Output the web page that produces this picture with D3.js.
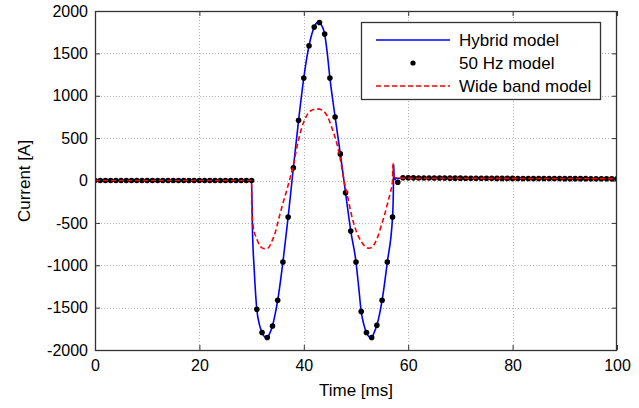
<!DOCTYPE html>
<html><head><meta charset="utf-8">
<script src="https://cdn.jsdelivr.net/npm/d3@7"></script>
<style>
html,body{margin:0;padding:0;background:#fff;}
svg text{font-family:"Liberation Sans",Arial,sans-serif;fill:#000;}
</style></head>
<body><svg id="c" width="639" height="408"></svg>
<script>
// ---- data ----
const xTicks = [0, 20, 40, 60, 80, 100];
const yTicks = [-2000, -1500, -1000, -500, 0, 500, 1000, 1500, 2000];
const legendLabels = ["Hybrid model", "50 Hz model", "Wide band model"];

// Hybrid model (blue line)
const hybridT = [0, 30, 30.15, 30.5, 31, 31.5, 32, 32.5, 33, 33.5, 34, 34.5, 35, 36, 37, 38, 39, 40, 40.5, 41, 41.5, 42, 42.5, 43, 43.5, 44, 44.5, 45, 46, 47, 48, 49, 50, 50.5, 51, 51.5, 52, 52.5, 53, 53.5, 54, 54.5, 55, 56, 57, 57.15, 57.22, 57.3, 57.45, 57.7, 58, 59, 70, 85, 100];
const hybridV = [0, 0, -540, -1050, -1520, -1700, -1794, -1845, -1855, -1800, -1716, -1580, -1413, -962, -432, 150, 710, 1210, 1420, 1590, 1720, 1810, 1860, 1865, 1820, 1728, 1500, 1210, 750, 314, -145, -597, -962, -1250, -1547, -1700, -1794, -1845, -1853, -1790, -1708, -1580, -1413, -962, -432, -150, 190, 50, 10, 30, 25, 30, 28, 25, 22];

// 50 Hz model (black dots, every 1 ms)
const dotT = d3.range(0, 101);
const dotV = [
  0, 0, 0, 0, 0, 0, 0, 0, 0, 0,
  0, 0, 0, 0, 0, 0, 0, 0, 0, 0,
  0, 0, 0, 0, 0, 0, 0, 0, 0, 0,
  0, -1519, -1794, -1853, -1716, -1413, -962, -432, 150, 710,
  1210, 1590, 1810, 1865, 1728, 1210, 750, 314, -145, -597,
  -962, -1547, -1794, -1853, -1708, -1413, -962, -432, -20, 32,
  31, 31, 30, 30, 30, 29, 29, 29, 28, 28,
  28, 27, 27, 27, 26, 26, 26, 25, 25, 25,
  25, 24, 24, 24, 24, 23, 23, 23, 23, 23,
  22, 22, 22, 22, 22, 21, 21, 21, 21, 21, 20
];

// Wide band model (red dashed)
const wideT = [0, 30, 30.02, 30.3, 31, 31.5, 32, 32.6, 33.2, 34, 34.5, 35, 35.5, 36, 36.8, 37.5, 38, 38.7, 39.5, 40.5, 41.5, 42.5, 43.5, 44.5, 45.5, 46.4, 47, 47.7, 48.5, 49, 50, 51, 52, 52.5, 53, 54, 55, 55.5, 56, 56.5, 57, 57.08, 57.15, 57.3, 58, 70, 85, 100];
const wideV = [0, 0, -300, -540, -690, -760, -795, -805, -795, -700, -620, -500, -380, -270, -100, 60, 180, 400, 600, 760, 830, 845, 830, 760, 600, 420, 250, 0, -220, -370, -590, -720, -790, -800, -790, -690, -500, -400, -280, -160, 0, 200, 100, 40, 28, 26, 24, 22];

// ---- layout ----
const W = 639, H = 408;
const m = {left: 95, right: 617, top: 11, bottom: 350};
const svg = d3.select("#c");
const x = d3.scaleLinear().domain([0, 100]).range([m.left, m.right]);
const y = d3.scaleLinear().domain([-2000, 2000]).range([m.bottom, m.top]);

svg.append("rect").attr("width", W).attr("height", H).attr("fill", "#fff");

// grid
const grid = svg.append("g").attr("stroke", "#b4b4b4").attr("stroke-width", 1).attr("stroke-dasharray", "1,2");
grid.selectAll(".gx").data(xTicks.slice(1, -1)).enter().append("line")
  .attr("x1", d => Math.round(x(d)) + 0.5).attr("x2", d => Math.round(x(d)) + 0.5)
  .attr("y1", m.top).attr("y2", m.bottom);
grid.selectAll(".gy").data(yTicks.slice(1, -1)).enter().append("line")
  .attr("y1", d => Math.round(y(d)) + 0.5).attr("y2", d => Math.round(y(d)) + 0.5)
  .attr("x1", m.left).attr("x2", m.right);

// axes (inward ticks like MATLAB)
const tickLen = 5;
const fmt = d => String(d);
const axB = svg.append("g").attr("transform", `translate(0,${m.bottom})`)
  .call(d3.axisBottom(x).tickValues(xTicks).tickFormat(fmt).tickSizeInner(-tickLen).tickSizeOuter(0).tickPadding(10));
const axL = svg.append("g").attr("transform", `translate(${m.left},0)`)
  .call(d3.axisLeft(y).tickValues(yTicks).tickFormat(fmt).tickSizeInner(-tickLen).tickSizeOuter(0).tickPadding(7));
const axT = svg.append("g").attr("transform", `translate(0,${m.top})`)
  .call(d3.axisTop(x).tickValues(xTicks).tickSizeInner(-tickLen).tickSizeOuter(0).tickFormat(""));
const axR = svg.append("g").attr("transform", `translate(${m.right},0)`)
  .call(d3.axisRight(y).tickValues(yTicks).tickSizeInner(-tickLen).tickSizeOuter(0).tickFormat(""));
[axB, axL, axT, axR].forEach(a => {
  a.select(".domain").remove();
  a.selectAll("line").attr("stroke", "#333");
  a.selectAll("text").attr("font-size", "16px").attr("fill", "#000")
    .style("font-family", '"Liberation Sans", Arial, sans-serif');
});

// lines
const line = d3.line().x(d => x(d[0])).y(d => y(d[1])).curve(d3.curveMonotoneX);
const hybrid = hybridT.map((t, i) => [t, hybridV[i]]);
const wide = wideT.map((t, i) => [t, wideV[i]]);
const dots = dotT.map((t, i) => [t, dotV[i]]);

const clip = svg.append("clipPath").attr("id", "pc").append("rect")
  .attr("x", m.left).attr("y", m.top).attr("width", m.right - m.left).attr("height", m.bottom - m.top);
const plot = svg.append("g").attr("clip-path", "url(#pc)");

plot.append("path").datum(hybrid).attr("d", line).attr("fill", "none")
  .attr("stroke", "#0000ff").attr("stroke-width", 1.6);
plot.selectAll(".dot").data(dots).enter().append("circle")
  .attr("cx", d => x(d[0])).attr("cy", d => y(d[1])).attr("r", 2.8).attr("fill", "#000");
plot.append("path").datum(wide).attr("d", line).attr("fill", "none")
  .attr("stroke", "#ff0000").attr("stroke-width", 1.6).attr("stroke-dasharray", "5,3");

// box
svg.append("rect").attr("x", m.left + 0.5).attr("y", m.top + 0.5)
  .attr("width", m.right - m.left - 1).attr("height", m.bottom - m.top)
  .attr("fill", "none").attr("stroke", "#333").attr("stroke-width", 1.3);

// axis labels
svg.append("text").attr("x", (m.left + m.right) / 2).attr("y", 396)
  .attr("text-anchor", "middle").attr("font-size", "17px").text("Time [ms]");
svg.append("text").attr("transform", `translate(30,181) rotate(-90)`)
  .attr("text-anchor", "middle").attr("font-size", "17px").text("Current [A]");

// legend
const lg = svg.append("g");
lg.append("rect").attr("x", 361.5).attr("y", 22.5).attr("width", 239).attr("height", 77)
  .attr("fill", "#fff").attr("stroke", "#333").attr("stroke-width", 1.3);
const ly = [40, 63, 86];
lg.append("line").attr("x1", 376).attr("x2", 450).attr("y1", ly[0]).attr("y2", ly[0])
  .attr("stroke", "#0000ff").attr("stroke-width", 1.6);
lg.append("circle").attr("cx", 413).attr("cy", ly[1]).attr("r", 2.6).attr("fill", "#000");
lg.append("line").attr("x1", 376).attr("x2", 450).attr("y1", ly[2]).attr("y2", ly[2])
  .attr("stroke", "#ff0000").attr("stroke-width", 1.6).attr("stroke-dasharray", "5,3");
lg.selectAll(".lt").data(legendLabels).enter().append("text")
  .attr("x", 459).attr("y", (d, i) => ly[i] + 6).attr("font-size", "17px").text(d => d);
</script></body></html>
